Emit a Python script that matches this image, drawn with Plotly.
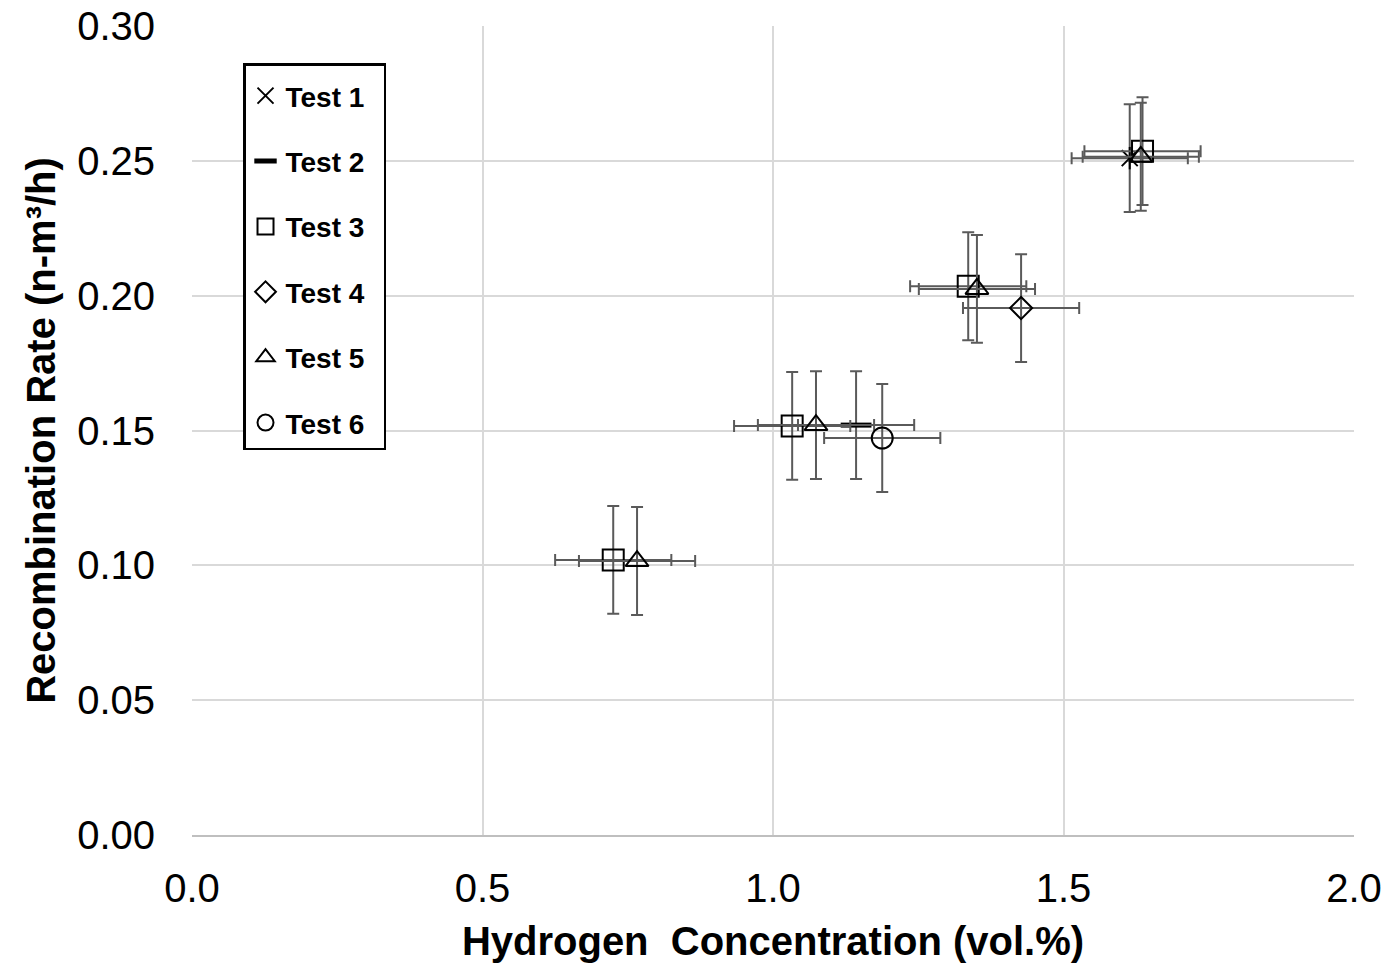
import plotly.graph_objects as go

# ---- data ----
t1_x = [1.614]
t1_y = [0.251]
t2_x = [1.143]
t2_y = [0.152]
t3_x = [0.725, 1.033, 1.336, 1.636]
t3_y = [0.102, 0.1517, 0.2035, 0.2536]
t4_x = [1.427]
t4_y = [0.1954]
t5_x = [0.766, 1.074, 1.351, 1.633]
t5_y = [0.1016, 0.152, 0.2025, 0.2515]
t6_x = [1.188]
t6_y = [0.1472]

x_err = 0.1    # vol.% uncertainty
y_err = 0.02   # n-m3/h uncertainty

x_ticks = [0.0, 0.5, 1.0, 1.5, 2.0]
y_ticks = [0.00, 0.05, 0.10, 0.15, 0.20, 0.25, 0.30]

FONT = "Liberation Sans, Arial, sans-serif"
ERRC = "#5a5a5a"
PAD = "\u00a0\u2009"

def ex(xs):
    return dict(type="data", array=[x_err] * len(xs), color=ERRC, thickness=2, width=6)

def ey(ys):
    return dict(type="data", array=[y_err] * len(ys), color=ERRC, thickness=2, width=6)

fig = go.Figure()

series = [
    ("Test 1", t1_x, t1_y, dict(symbol="x-thin-open", size=16, color="black", line=dict(color="black", width=2))),
    ("Test 2", t2_x, t2_y, dict(symbol="line-ew-open", size=22, color="black", line=dict(color="black", width=5))),
    ("Test 3", t3_x, t3_y, dict(symbol="square-open", size=21, color="black", line=dict(color="black", width=2))),
    ("Test 4", t4_x, t4_y, dict(symbol="diamond-open", size=17, color="black", line=dict(color="black", width=2))),
    ("Test 5", t5_x, t5_y, dict(symbol="triangle-up-open", size=20, color="black", line=dict(color="black", width=2))),
    ("Test 6", t6_x, t6_y, dict(symbol="circle-open", size=21, color="black", line=dict(color="black", width=2))),
]

for name, xs, ys, mk in series:
    fig.add_trace(go.Scatter(
        x=xs, y=ys, mode="markers", name=name + PAD, legendgroup=name,
        marker=mk, error_x=ex(xs), error_y=ey(ys),
    ))
    if name == "Test 1":
        # vertical stroke completing the Excel-style star marker
        fig.add_trace(go.Scatter(
            x=xs, y=ys, mode="markers", name=name, legendgroup=name, showlegend=False,
            marker=dict(symbol="line-ns-open", size=16, color="black", line=dict(color="black", width=2)),
        ))

fig.update_layout(
    width=1392, height=968,
    margin=dict(l=192, r=38, t=26, b=133, autoexpand=False),
    paper_bgcolor="white", plot_bgcolor="white",
    font=dict(family=FONT, color="black"),
    showlegend=True,
    legend=dict(
        x=0.0439, y=0.954, xanchor="left", yanchor="top",
        bordercolor="black", borderwidth=2.5, bgcolor="white",
        font=dict(family=FONT, size=28, color="black", weight="bold"),
        tracegroupgap=26, itemwidth=30,
        title=dict(text=" ", font=dict(size=4)),
    ),
    xaxis=dict(
        range=[0, 2], tickvals=x_ticks, ticktext=[f"{v:.1f}" for v in x_ticks],
        showgrid=True, gridcolor="#d9d9d9", gridwidth=1.5,
        showline=True, linecolor="#bfbfbf", linewidth=1.5,
        zeroline=False, ticks="", tickfont=dict(size=40, family=FONT),
        ticklabelstandoff=17, automargin=False,
        title=dict(text="Hydrogen  Concentration (vol.%)", font=dict(size=40, family=FONT, weight="bold"), standoff=18),
    ),
    yaxis=dict(
        range=[0, 0.30], tickvals=y_ticks, ticktext=[f"{v:.2f}" for v in y_ticks],
        showgrid=True, gridcolor="#d9d9d9", gridwidth=1.5,
        showline=False, zeroline=False, ticks="", tickfont=dict(size=40, family=FONT),
        ticklabelstandoff=36, automargin=False,
        title=dict(text="Recombination Rate (n-m³/h)", font=dict(size=40, family=FONT, weight="bold"), standoff=9),
    ),
)

fig.write_html("out.html")
